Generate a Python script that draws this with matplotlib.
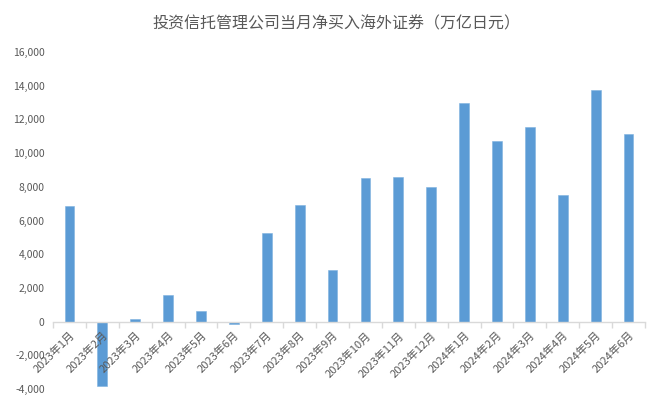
import numpy as np
import matplotlib.pyplot as plt

plt.rcParams['font.family'] = ['Noto Sans CJK SC', 'DejaVu Sans']

months = ['2023年1月', '2023年2月', '2023年3月', '2023年4月', '2023年5月', '2023年6月',
          '2023年7月', '2023年8月', '2023年9月', '2023年10月', '2023年11月', '2023年12月',
          '2024年1月', '2024年2月', '2024年3月', '2024年4月', '2024年5月', '2024年6月']
net_buy = [6850, -3850, 150, 1600, 620, -150,
           5280, 6940, 3080, 8540, 8600, 8000,
           12990, 10730, 11560, 7530, 13760, 11150]

bar_color = '#5B9BD5'
text_color = '#595959'

fig = plt.figure(figsize=(6.72, 3.97), dpi=100)
ax = fig.add_axes([53 / 672, 1 - 389 / 397, (645 - 53) / 672, (389 - 52) / 397])

x = np.arange(len(months))
ax.bar(x, net_buy, width=0.3, color=bar_color, edgecolor='#7FB2E0', linewidth=0.4, zorder=1)

ax.set_xlim(-0.5, len(months) - 0.5)
ax.set_ylim(-4000, 16000)
ax.set_yticks(np.arange(-4000, 16001, 2000))
ax.set_yticklabels([f'{v:,}' for v in range(-4000, 16001, 2000)])

for s in ['top', 'right', 'left']:
    ax.spines[s].set_visible(False)
ax.spines['bottom'].set_position(('data', 0))
ax.spines['bottom'].set_color('#D9D9D9')
ax.spines['bottom'].set_linewidth(1.0)
ax.xaxis.set_zorder(3)

ax.set_xticks(x)
ax.set_xticklabels(months, rotation=45, ha='right', rotation_mode='anchor')
ax.set_xticks(np.arange(-0.5, len(months), 1), minor=True)
ax.tick_params(axis='x', which='major', length=0, pad=6, labelsize=8, colors=text_color)
ax.tick_params(axis='x', which='minor', length=4, color='#D9D9D9', width=1.0)
ax.tick_params(axis='y', length=0, labelsize=7.5, colors=text_color, pad=6)
for lbl in ax.get_xticklabels():
    lbl.set_x(lbl.get_position()[0] + 0.1)

fig.text(0.5, 1 - 24 / 397, '投资信托管理公司当月净买入海外证券（万亿日元）',
         ha='center', va='center', fontsize=11.5, color=text_color)

fig.savefig('out.png', dpi=100)
